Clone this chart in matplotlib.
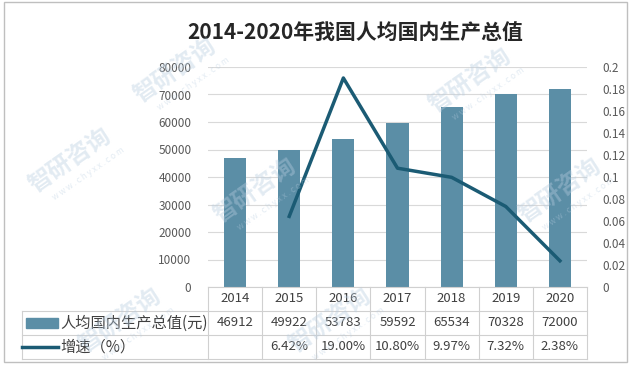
# 2014-2020年我国人均国内生产总值：柱状图 + 增速折线 + 数据表
import matplotlib.pyplot as plt
from matplotlib.patches import Rectangle
from matplotlib.lines import Line2D

plt.rcParams['font.family'] = ['Noto Sans CJK SC', 'DejaVu Sans']

years = ['2014', '2015', '2016', '2017', '2018', '2019', '2020']
gdp_per_capita = [46912, 49922, 53783, 59592, 65534, 70328, 72000]
growth_pct = [None, 6.42, 19.00, 10.80, 9.97, 7.32, 2.38]

bar_label = '人均国内生产总值(元)'
line_label = '增速（%）'
title = '2014-2020年我国人均国内生产总值'

BAR_COLOR = '#5b8ea6'
LINE_COLOR = '#1b5b74'
GRID_COLOR = '#d9d9d9'
TEXT_COLOR = '#595959'

W, H = 631, 365
fig = plt.figure(figsize=(W / 100, H / 100), dpi=100)


def fx(px):
    return px / W


def fy(py):
    return 1 - py / H


left, right, top, bottom = 208, 587, 67, 287
ax = fig.add_axes([fx(left), fy(bottom), fx(right - left), fy(top) - fy(bottom)])
ax2 = ax.twinx()

x = list(range(len(years)))
ax.bar(x, gdp_per_capita, width=0.41, color=BAR_COLOR, zorder=2)
ax.set_xlim(-0.5, len(years) - 0.5)
ax.set_ylim(0, 80000)
ax.set_yticks(range(0, 80001, 10000))
ax.grid(axis='y', color=GRID_COLOR, linewidth=0.8, zorder=0)
ax.set_xticks([])

line_x = [i for i, g in zip(x, growth_pct) if g is not None]
line_y = [g / 100 for g in growth_pct if g is not None]
ax2.plot(line_x, line_y, color=LINE_COLOR, linewidth=2.5, zorder=3)
ax2.set_ylim(0, 0.2)
ax2.set_yticks([i / 100 for i in range(0, 21, 2)])
ax2.set_yticklabels(['0', '0.02', '0.04', '0.06', '0.08', '0.1', '0.12',
                     '0.14', '0.16', '0.18', '0.2'])

for a in (ax, ax2):
    for s in a.spines.values():
        s.set_visible(False)
    a.tick_params(length=0, labelsize=8.5, labelcolor=TEXT_COLOR)
ax.tick_params(axis='y', pad=12)
ax2.tick_params(axis='y', pad=11)

# 数据表
row_y = [287, 311, 335, 359]
label_left = 22
table_lines = [
    ([left, right], [row_y[0], row_y[0]]),
    ([label_left, right], [row_y[1], row_y[1]]),
    ([label_left, right], [row_y[2], row_y[2]]),
    ([label_left, right], [row_y[3], row_y[3]]),
    ([label_left, label_left], [row_y[1], row_y[3]]),
]
col_w = (right - left) / len(years)
for i in range(len(years) + 1):
    xx = left + i * col_w
    table_lines.append(([xx, xx], [row_y[0], row_y[3]]))
for xs, ys in table_lines:
    fig.add_artist(Line2D([fx(v) for v in xs], [fy(v) for v in ys],
                          color='#d0d0d0', linewidth=0.8))

for i, yr in enumerate(years):
    cx = fx(left + (i + 0.5) * col_w)
    fig.text(cx, fy((row_y[0] + row_y[1]) / 2), yr, ha='center', va='center',
             fontsize=9.5, color='#404040')
    fig.text(cx, fy((row_y[1] + row_y[2]) / 2), str(gdp_per_capita[i]),
             ha='center', va='center', fontsize=9.5, color='#404040')
    if growth_pct[i] is not None:
        fig.text(cx, fy((row_y[2] + row_y[3]) / 2), f'{growth_pct[i]:.2f}%',
                 ha='center', va='center', fontsize=9.5, color='#404040')

# 图例键
fig.add_artist(Rectangle((fx(26), fy(328)), fx(32), fy(318) - fy(328),
                         color=BAR_COLOR))
fig.text(fx(60), fy((row_y[1] + row_y[2]) / 2), bar_label, ha='left',
         va='center', fontsize=11, color='#404040')
fig.add_artist(Line2D([fx(22), fx(58)], [fy(347), fy(347)], color=LINE_COLOR,
                      linewidth=2.5))
fig.text(fx(60), fy((row_y[2] + row_y[3]) / 2), line_label, ha='left',
         va='center', fontsize=11, color='#404040')

fig.text(fx(355), fy(33), title, ha='center', va='center', fontsize=15,
         fontweight='bold', color='#262626')

# 水印
for wx, wy in [(175, 70), (70, 160), (255, 190), (470, 80), (560, 190),
               (120, 320), (330, 320)]:
    fig.text(fx(wx), fy(wy), '智研咨询', ha='center', va='center', fontsize=17,
             fontweight='bold', color='#b8cde0', alpha=0.4, rotation=35)
    fig.text(fx(wx + 18), fy(wy + 14), 'w w w . c h y x x . c o m', ha='center',
             va='center', fontsize=6, color='#b8cde0', alpha=0.4, rotation=35)

# 外框
fig.add_artist(Rectangle((fx(4), fy(362)), fx(623), fy(2) - fy(362),
                         fill=False, edgecolor='#bfbfbf', linewidth=1))

fig.savefig('out.png', dpi=100)
